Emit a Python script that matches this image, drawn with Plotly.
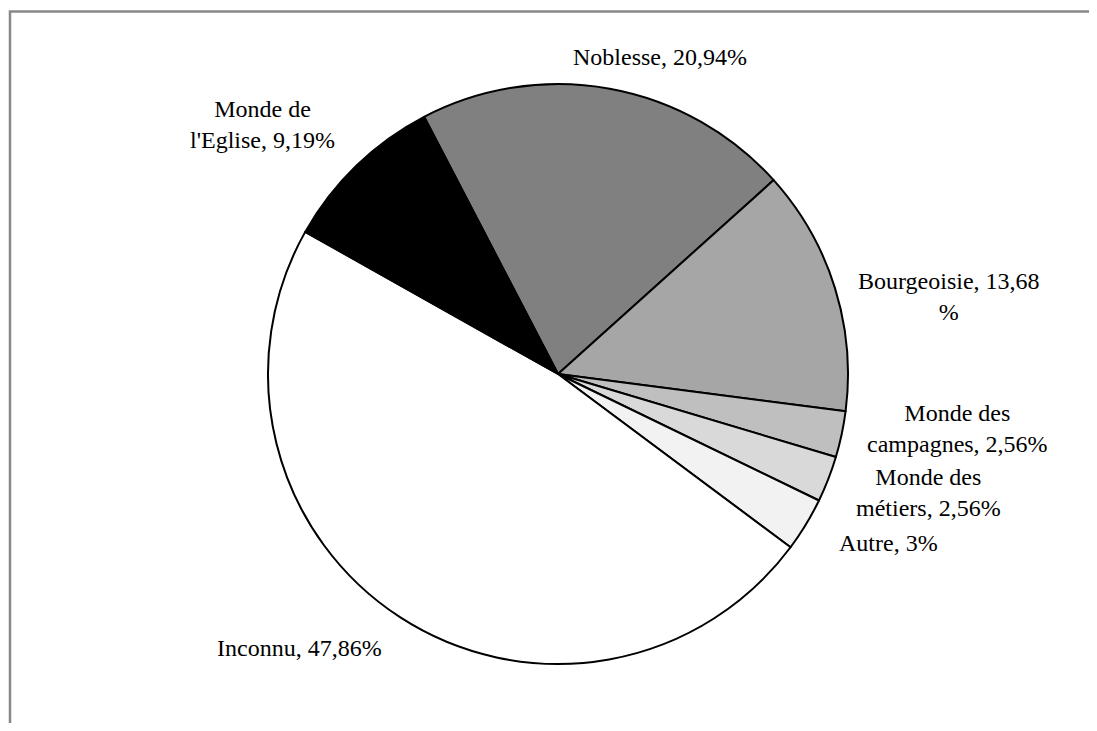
import plotly.graph_objects as go

WIN_W, WIN_H = 1097, 731
OFF = 8  # default page body margin
W, H = WIN_W - 2 * OFF, WIN_H - 2 * OFF

categories = ["Noblesse", "Bourgeoisie", "Monde des campagnes", "Monde des métiers",
              "Autre", "Inconnu", "Monde de l'Eglise"]
values = [20.94, 13.68, 2.56, 2.56, 3.0, 47.86, 9.19]
label_texts = ["Noblesse, 20,94%", "Bourgeoisie, 13,68<br>%", "Monde des<br>campagnes, 2,56%",
               "Monde des<br>métiers, 2,56%", "Autre, 3%", "Inconnu, 47,86%",
               "Monde de<br>l'Eglise, 9,19%"]
colors = ["#808080", "#a6a6a6", "#bfbfbf", "#d9d9d9", "#f2f2f2", "#ffffff", "#000000"]

# label centers in window pixels
label_pos = [(660, 57), (949, 296), (957, 429), (928, 492), (888, 543), (299, 648), (262, 125)]


def px(x):
    return (x - OFF) / W


def py(y):
    return 1 - (y - OFF) / H


cx, cy, r = 558, 374, 290

fig = go.Figure(go.Pie(
    labels=categories, values=values, sort=False, direction="clockwise",
    rotation=-27.5, textinfo="none", hoverinfo="label+percent",
    marker=dict(colors=colors, line=dict(color="#000000", width=2)),
    domain=dict(x=[px(cx - r), px(cx + r)], y=[py(cy + r), py(cy - r)]),
    showlegend=False,
))

for t, (x, y) in zip(label_texts, label_pos):
    fig.add_annotation(x=px(x), y=py(y), xref="paper", yref="paper", text=t,
                       showarrow=False, xanchor="center", yanchor="middle", align="center",
                       font=dict(family="Liberation Serif", size=24, color="#000000"))

fig.add_shape(type="path", xref="paper", yref="paper",
              path=f"M {px(10)} 0 L {px(10)} {py(11.5)} L 1 {py(11.5)}",
              line=dict(color="#898989", width=2.5))

fig.update_layout(width=W, height=H, margin=dict(l=0, r=0, t=0, b=0),
                  paper_bgcolor="white", plot_bgcolor="white",
                  font=dict(family="Liberation Serif", size=24, color="#000000"))

fig.write_html("out.html")
